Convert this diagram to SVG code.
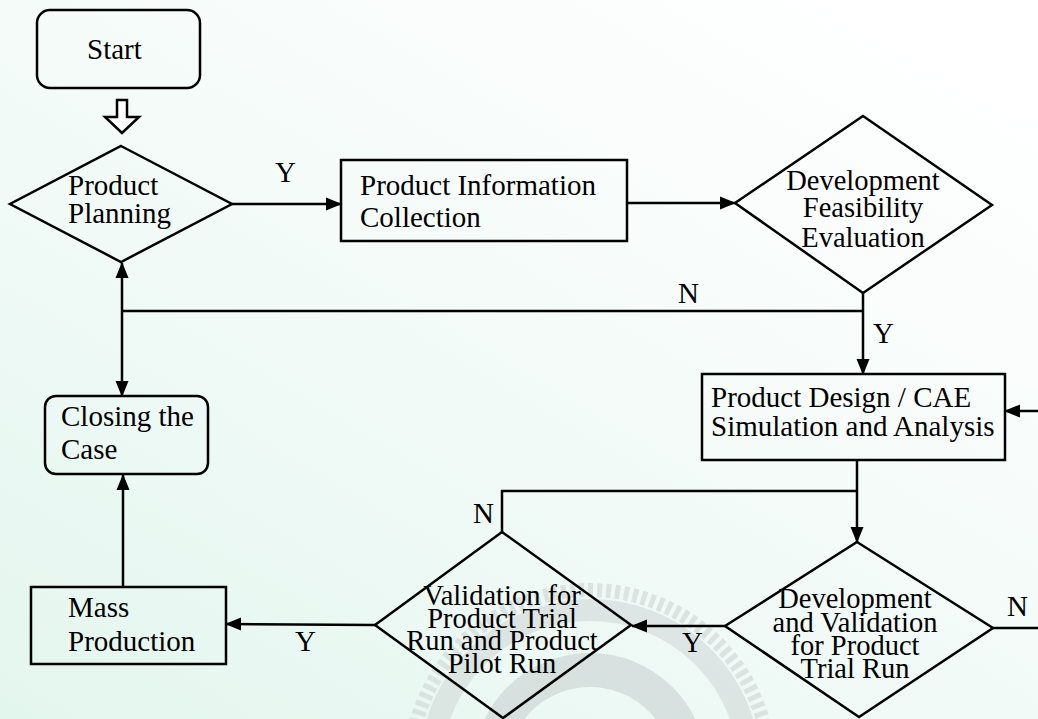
<svg xmlns="http://www.w3.org/2000/svg" width="1038" height="719" viewBox="0 0 1038 719">
<defs>
<linearGradient id="bg" x1="0" y1="1" x2="0.85" y2="0">
<stop offset="0" stop-color="#e3f6ee"/>
<stop offset="0.55" stop-color="#f4fbf9"/>
<stop offset="1" stop-color="#ffffff"/>
</linearGradient>
<marker id="ah" markerUnits="userSpaceOnUse" markerWidth="16" markerHeight="14" refX="15" refY="6.5" orient="auto-start-reverse" viewBox="0 0 16 13">
<path d="M0,0 L16,6.5 L0,13 z" fill="#000"/>
</marker>
<style>
.sh{fill:none;stroke:#000;stroke-width:2.5}
.ln{fill:none;stroke:#000;stroke-width:2.5}
.t{font-family:"Liberation Serif","Times New Roman",serif;font-size:29px;fill:#000}
.tm{font-family:"Liberation Serif","Times New Roman",serif;font-size:28.5px;fill:#000;text-anchor:middle}
.lb{font-family:"Liberation Serif","Times New Roman",serif;font-size:29px;fill:#000}
</style>
</defs>
<rect x="0" y="0" width="1038" height="719" fill="url(#bg)"/>
<g id="watermark" opacity="0.5">
<circle cx="590" cy="770" r="180" fill="none" stroke="#c9cfcf" stroke-width="14" stroke-dasharray="5 4"/>
<circle cx="590" cy="770" r="160" fill="none" stroke="#cdd3d3" stroke-width="22"/>
<circle cx="590" cy="770" r="100" fill="none" stroke="#c3caca" stroke-width="34"/>
</g>
<g id="connectors">
<line class="ln" x1="232" y1="204" x2="341" y2="204" marker-end="url(#ah)"/>
<line class="ln" x1="627" y1="203" x2="735" y2="203" marker-end="url(#ah)"/>
<line class="ln" x1="863" y1="293" x2="863" y2="374" marker-end="url(#ah)"/>
<polyline class="ln" points="863,311 122,311"/>
<line class="ln" x1="122" y1="263" x2="122" y2="396" marker-start="url(#ah)" marker-end="url(#ah)"/>
<line class="ln" x1="123" y1="587" x2="123" y2="475" marker-end="url(#ah)"/>
<line class="ln" x1="857" y1="460" x2="857" y2="542" marker-end="url(#ah)"/>
<polyline class="ln" points="857,491 502,491 502,532"/>
<line class="ln" x1="725" y1="626" x2="632" y2="626" marker-end="url(#ah)"/>
<line class="ln" x1="375" y1="625" x2="226" y2="624" marker-end="url(#ah)"/>
<line class="ln" x1="993" y1="628" x2="1038" y2="628"/>
<line class="ln" x1="1038" y1="411" x2="1005" y2="411" marker-end="url(#ah)"/>
<polygon points="117,100 127,100 127,117 139,117 122,133 105,117 117,117" fill="#fff" stroke="#000" stroke-width="2.5" stroke-linejoin="miter"/>
<text class="lb" x="275" y="182">Y</text>
<text class="lb" x="678" y="303">N</text>
<text class="lb" x="873" y="343">Y</text>
<text class="lb" x="473" y="523">N</text>
<text class="lb" x="682" y="652">Y</text>
<text class="lb" x="295" y="651">Y</text>
<text class="lb" x="1007" y="616">N</text>
</g>
<g id="start">
<rect class="sh" x="37" y="10" width="163" height="78" rx="13"/>
<text class="t" x="87" y="59">Start</text>
</g>
<g id="product-planning">
<polygon class="sh" points="121,146 232,204 121,262 10,204"/>
<text class="t" x="68" y="195">Product</text>
<text class="t" x="68" y="223">Planning</text>
</g>
<g id="product-information-collection">
<rect class="sh" x="341" y="160" width="286" height="81"/>
<text class="t" x="360" y="195">Product Information</text>
<text class="t" x="360" y="227">Collection</text>
</g>
<g id="development-feasibility-evaluation">
<polygon class="sh" points="863,116 992,205 863,293 735,203"/>
<text class="tm" x="863" y="190">Development</text>
<text class="tm" x="863" y="217">Feasibility</text>
<text class="tm" x="863" y="247">Evaluation</text>
</g>
<g id="product-design">
<rect class="sh" x="702" y="374" width="303" height="86"/>
<text class="t" x="711" y="407">Product Design / CAE</text>
<text class="t" x="711" y="436">Simulation and Analysis</text>
</g>
<g id="closing-the-case">
<rect class="sh" x="45" y="396" width="163" height="78" rx="11"/>
<text class="t" x="61" y="426">Closing the</text>
<text class="t" x="61" y="459">Case</text>
</g>
<g id="development-validation">
<polygon class="sh" points="857,542 993,628 859,717 725,626"/>
<text class="tm" x="855" y="608">Development</text>
<text class="tm" x="855" y="632">and Validation</text>
<text class="tm" x="855" y="655">for Product</text>
<text class="tm" x="855" y="678">Trial Run</text>
</g>
<g id="validation-trial-pilot">
<polygon class="sh" points="502,532 631,625 503,718 375,625"/>
<text class="tm" x="502" y="605">Validation for</text>
<text class="tm" x="502" y="628">Product Trial</text>
<text class="tm" x="502" y="650">Run and Product</text>
<text class="tm" x="502" y="673">Pilot Run</text>
</g>
<g id="mass-production">
<rect class="sh" x="31" y="587" width="195" height="77"/>
<text class="t" x="68" y="617">Mass</text>
<text class="t" x="68" y="651">Production</text>
</g>
</svg>
